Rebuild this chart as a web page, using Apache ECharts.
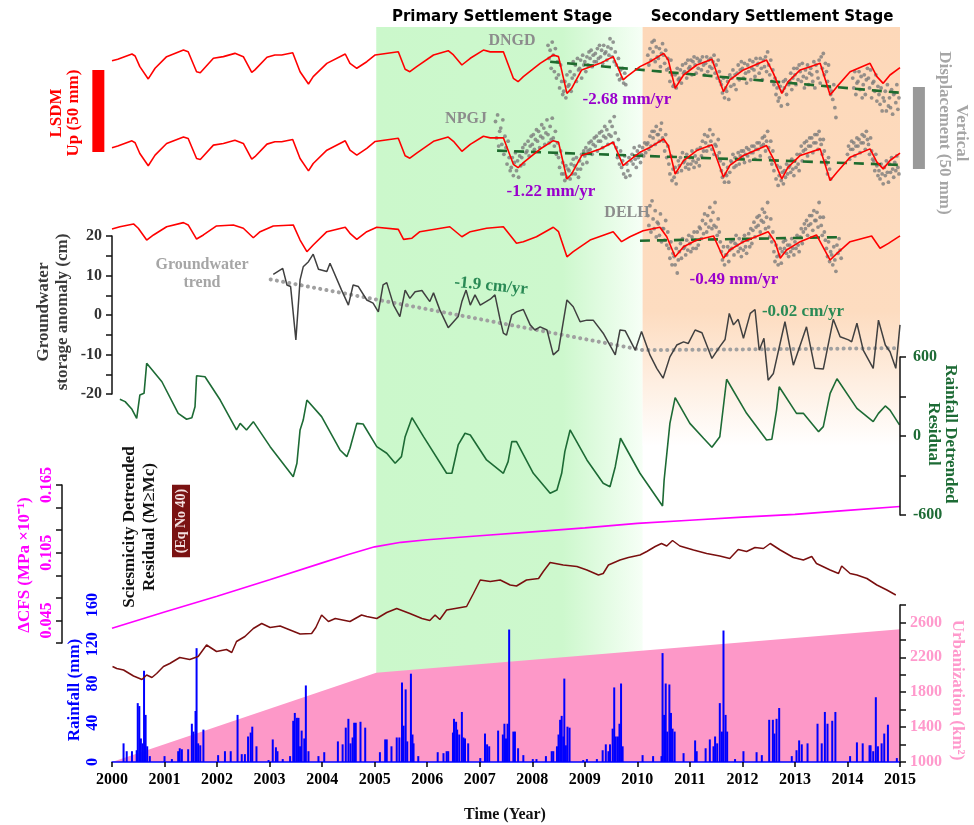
<!DOCTYPE html>
<html>
<head>
<meta charset="utf-8">
<title>Settlement stages</title>
<script src="https://cdn.jsdelivr.net/npm/echarts@6/dist/echarts.min.js"></script>
<style>
html,body{margin:0;padding:0;background:#fff;}
#main{width:974px;height:825px;}
</style>
</head>
<body>
<div id="main"></div>
<script>
// ---- data ----
// LSDM vertical loading (mm), [year, mm]
var lsdmDNGD = [
 [2000.00,2.6],[2000.11,3.5],[2000.38,6.7],[2000.44,5.5],[2000.53,-1.0],[2000.69,-8.5],[2000.82,-2.0],
 [2001.04,5.1],[2001.36,9.1],[2001.45,8.1],[2001.61,-4.1],[2001.68,-4.7],[2001.93,4.1],
 [2002.12,5.1],[2002.34,7.1],[2002.50,5.1],[2002.66,-4.5],[2002.72,-3.0],[2002.95,4.7],
 [2003.10,6.1],[2003.23,6.1],[2003.44,7.5],[2003.58,-4.1],[2003.74,-11.6],[2003.83,-7.1],
 [2004.09,1.0],[2004.44,6.7],[2004.53,1.0],[2004.66,-2.0],[2004.85,2.0],
 [2005.01,6.1],[2005.45,8.1],[2005.58,-2.6],[2005.67,-4.1],[2005.80,-1.0],
 [2006.12,6.1],[2006.40,8.7],[2006.50,6.1],[2006.66,0.0],[2006.82,4.1],
 [2007.07,9.1],[2007.20,8.0],[2007.45,8.1],[2007.64,-8.1],[2007.73,-10.2],[2007.83,-7.1],
 [2008.15,1.0],[2008.40,6.1],[2008.50,5.1],[2008.66,-17.3],[2008.75,-14.2],[2008.94,-3.0],
 [2009.29,1.0],[2009.54,5.1],[2009.61,0.0],[2009.73,-9.1],[2009.80,-7.1],
 [2010.05,-1.0],[2010.24,2.0],[2010.50,7.1],[2010.59,3.0],[2010.72,-14.2],[2010.88,-6.1],
 [2011.13,0.0],[2011.42,3.5],[2011.64,-16.3],[2011.76,-9.1],
 [2012.02,-3.0],[2012.46,3.0],[2012.59,-5.1],[2012.75,-17.3],[2012.87,-10.2],
 [2013.10,-3.0],[2013.29,-1.0],[2013.48,1.0],[2013.67,-18.3],[2013.80,-13.2],
 [2014.05,-4.1],[2014.43,1.0],[2014.56,-7.1],[2014.68,-11.2],[2014.81,-6.1],[2015.00,-1.6]
];
var lsdmNPGJ = [
 [2000.00,2.0],[2000.11,3.0],[2000.38,6.2],[2000.44,5.0],[2000.53,-1.5],[2000.69,-9.0],[2000.82,-2.5],
 [2001.04,4.6],[2001.36,8.6],[2001.45,7.6],[2001.61,-4.6],[2001.68,-5.2],[2001.93,3.6],
 [2002.12,4.6],[2002.34,6.6],[2002.50,4.6],[2002.66,-5.0],[2002.72,-3.5],[2002.95,4.2],
 [2003.10,5.6],[2003.23,5.6],[2003.44,7.0],[2003.58,-4.6],[2003.74,-12.1],[2003.83,-7.6],
 [2004.09,0.5],[2004.44,6.2],[2004.53,0.5],[2004.66,-2.5],[2004.85,1.6],
 [2005.01,5.8],[2005.45,7.8],[2005.58,-2.9],[2005.67,-4.4],[2005.80,-1.3],
 [2006.12,5.9],[2006.40,8.5],[2006.50,5.9],[2006.66,-0.2],[2006.82,4.0],
 [2007.07,9.0],[2007.20,8.0],[2007.45,8.1],[2007.64,-8.1],[2007.73,-10.2],[2007.83,-7.1],
 [2008.15,1.2],[2008.40,6.3],[2008.50,5.3],[2008.66,-17.1],[2008.75,-14.0],[2008.94,-2.8],
 [2009.29,1.2],[2009.54,5.3],[2009.61,0.2],[2009.73,-8.9],[2009.80,-6.9],
 [2010.05,-0.8],[2010.24,2.2],[2010.50,7.3],[2010.59,3.2],[2010.72,-14.0],[2010.88,-5.9],
 [2011.13,0.3],[2011.42,3.8],[2011.64,-16.0],[2011.76,-8.8],
 [2012.02,-2.7],[2012.46,3.3],[2012.59,-4.8],[2012.75,-17.0],[2012.87,-9.9],
 [2013.10,-2.7],[2013.29,-0.7],[2013.48,1.3],[2013.67,-18.0],[2013.80,-12.9],
 [2014.05,-3.8],[2014.43,1.3],[2014.56,-6.8],[2014.68,-10.9],[2014.81,-5.8],[2015.00,-1.3]
];
var lsdmDELH = [
 [2000.00,1.8],[2000.15,3.2],[2000.41,4.9],[2000.50,2.3],[2000.66,-4.9],[2000.79,-1.8],
 [2001.04,3.2],[2001.36,5.7],[2001.45,4.3],[2001.61,-4.3],[2001.74,-1.8],[2001.99,3.7],
 [2002.31,4.3],[2002.50,2.3],[2002.69,-3.5],[2002.82,0.2],[2003.07,3.7],[2003.45,4.3],
 [2003.58,-4.9],[2003.71,-12.0],[2003.83,-7.9],[2004.09,0.2],[2004.44,2.9],[2004.53,-0.8],
 [2004.66,-4.5],[2004.85,0.2],[2005.04,2.9],[2005.45,1.6],[2005.55,-4.5],[2005.71,-3.8],
 [2005.86,0.2],[2006.43,3.2],[2006.66,-2.9],[2006.82,0.2],[2007.13,2.3],[2007.45,3.2],
 [2007.70,-6.9],[2007.83,-5.9],[2008.08,-2.9],[2008.40,2.9],[2008.50,0.2],[2008.66,-15.1],
 [2008.78,-12.0],[2009.10,-4.9],[2009.54,0.2],[2009.70,-5.9],[2009.86,-2.9],[2010.11,0.8],
 [2010.43,2.9],[2010.56,-2.9],[2010.72,-15.1],[2010.88,-9.0],[2011.13,-4.9],[2011.45,-2.4],
 [2011.64,-16.0],[2011.76,-11.0],[2012.02,-5.9],[2012.49,0.2],[2012.62,-5.9],[2012.72,-16.0],
 [2012.84,-11.0],[2013.10,-5.9],[2013.41,-1.8],[2013.67,-17.1],[2013.80,-13.0],[2014.05,-5.9],
 [2014.46,-2.4],[2014.62,-9.9],[2014.78,-6.9],[2015.00,-2.4]
];

// GPS vertical displacement (mm): each row = [bin start year, samples 0.02 yr apart]
var gpsDNGD = [
 [2008.3,[12,4,9,-2,14]],[2008.4,[6,-4,10,-8,2]],[2008.5,[-6,-14,0,-10,-18]],[2008.6,[-16,-10,-20,-6,-13]],
 [2008.7,[-12,-4,-16,-8,2]],[2008.8,[-6,0,-10,4,-3]],[2008.9,[-2,3,-8,6,0]],[2009.0,[2,-4,5,0,8]],
 [2009.1,[4,9,-1,6,2]],[2009.2,[7,2,10,4,12]],[2009.3,[5,9,1,12,7]],[2009.4,[8,3,11,6,16]],
 [2009.5,[10,5,14,2,8]],[2009.6,[0,-6,4,-9,-3]],[2009.7,[-8,-2,-11,-5,-12]],
 [2010.2,[6,0,10,3,14]],[2010.3,[8,15,2,11,5]],[2010.4,[4,10,-1,7,13]],[2010.5,[6,1,9,-3,4]],
 [2010.6,[-2,-10,3,-6,-13]],[2010.7,[-12,-6,-14,-2,-9]],[2010.8,[-8,-3,-11,0,-5]],[2010.9,[-4,1,-8,3,-2]],
 [2011.0,[-1,3,-6,2,5]],[2011.1,[0,-5,4,-2,2]],[2011.2,[3,-3,5,0,-6]],[2011.3,[1,5,-4,3,-1]],
 [2011.4,[4,-2,2,6,-5]],[2011.5,[0,-8,3,-4,-10]],[2011.6,[-12,-17,-8,-20,-14]],[2011.7,[-16,-10,-21,-6,-13]],
 [2011.8,[-8,-3,-12,-6,-15]],[2011.9,[-5,0,-9,-3,2]],[2012.0,[-2,-8,1,-5,-11]],[2012.1,[0,-4,3,-9,-2]],
 [2012.2,[2,-3,-7,4,0]],[2012.3,[1,-5,4,-2,-9]],[2012.4,[3,-1,5,-4,8]],[2012.5,[0,-6,3,-10,-3]],
 [2012.6,[-12,-8,-18,-14,-22]],[2012.7,[-20,-13,-25,-16,-10]],[2012.8,[-14,-9,-18,-24,-12]],[2012.9,[-10,-5,-15,-8,-2]],
 [2013.0,[-6,-12,-2,-9,0]],[2013.1,[-4,-10,1,-7,-14]],[2013.2,[-3,-8,0,-12,-5]],[2013.3,[-2,-6,-10,2,-14]],
 [2013.4,[0,-4,-8,3,-11]],[2013.5,[5,-2,7,-6,1]],[2013.6,[-4,-10,0,-14,-18]],[2013.7,[-16,-21,-12,-26,-32]],
 [2014.1,[-8,-14,-4,-18,-11]],[2014.2,[-10,-4,-15,-7,-20]],[2014.3,[-12,-6,-18,-9,-2]],[2014.4,[-8,-14,-3,-20,-11]],
 [2014.5,[-10,-16,-6,-22,-13]],[2014.6,[-18,-24,-14,-28,-20]],[2014.7,[-22,-16,-28,-12,-25]],[2014.8,[-20,-26,-15,-30,-18]],
 [2014.9,[-17,-23,-12,-27,-20]]
];
var gpsNPGJ = [
 [2007.3,[18,8,22,3,12]],[2007.4,[14,4,19,-2,9]],[2007.5,[2,-8,6,-4,-12]],[2007.6,[-10,-4,-15,-7,-1]],
 [2007.7,[-12,-6,-16,-3,-9]],[2007.8,[-4,2,-8,4,-1]],[2007.9,[0,6,-3,3,9]],[2008.0,[4,10,1,7,13]],
 [2008.1,[6,12,2,9,16]],[2008.2,[8,14,4,11,19]],[2008.3,[10,5,15,7,20]],[2008.4,[8,3,12,-2,5]],
 [2008.5,[-4,-10,0,-14,-7]],[2008.6,[-14,-18,-9,-16,-11]],[2008.7,[-12,-17,-8,-14,-5]],[2008.8,[-9,-14,-4,-11,-16]],
 [2008.9,[-6,-11,-2,-8,0]],[2009.0,[-3,2,-7,0,5]],[2009.1,[1,6,-2,4,8]],[2009.2,[3,9,0,6,11]],
 [2009.3,[6,12,2,9,15]],[2009.4,[8,13,4,10,18]],[2009.5,[9,15,5,21,11]],[2009.6,[2,-4,7,-8,0]],
 [2009.7,[-10,-6,-14,-3,-16]],[2009.8,[-8,-12,-4,-15,-6]],[2009.9,[-2,-8,2,-5,-10]],[2010.0,[0,-4,3,-7,-2]],
 [2010.1,[2,-3,5,-1,4]],[2010.2,[5,1,9,3,12]],[2010.3,[8,12,4,15,10]],[2010.4,[10,6,13,17,8]],
 [2010.5,[6,0,10,-4,3]],[2010.6,[-8,-14,-3,-18,-11]],[2010.7,[-16,-10,-20,-13,-6]],[2010.8,[-9,-4,-12,-1,-7]],
 [2010.9,[-6,-10,-2,-8,-11]],[2011.0,[-4,-8,0,-6,-10]],[2011.1,[-3,-7,1,-5,-9]],[2011.2,[2,-3,6,0,10]],
 [2011.3,[5,0,9,3,13]],[2011.4,[6,1,10,-2,4]],[2011.5,[3,-3,7,-1,-6]],[2011.6,[-12,-16,-8,-19,-14]],
 [2011.7,[-15,-10,-19,-13,-6]],[2011.8,[-7,-2,-10,-4,-9]],[2011.9,[-5,-1,-8,-3,0]],[2012.0,[-4,0,-7,-2,2]],
 [2012.1,[-3,1,-6,-1,3]],[2012.2,[-1,3,-5,1,5]],[2012.3,[1,5,-3,3,8]],[2012.4,[4,9,0,6,12]],
 [2012.5,[2,-4,6,-8,0]],[2012.6,[-12,-6,-17,-9,-21]],[2012.7,[-15,-10,-18,-13,-20]],[2012.8,[-12,-16,-8,-14,-10]],
 [2012.9,[-9,-13,-5,-11,-15]],[2013.0,[-6,-10,-2,-8,-12]],[2013.1,[-2,3,-6,0,5]],[2013.2,[1,6,-3,3,8]],
 [2013.3,[3,8,-1,5,10]],[2013.4,[5,10,1,12,7]],[2013.5,[4,-2,7,0,-6]],[2013.6,[-8,-14,-4,-11,-17]],
 [2014.0,[-2,3,-5,1,6]],[2014.1,[1,5,-3,3,8]],[2014.2,[3,7,-1,5,10]],[2014.3,[5,9,1,12,7]],
 [2014.4,[4,-2,8,0,-5]],[2014.5,[-6,-12,-2,-9,-15]],[2014.6,[-12,-17,-8,-14,-20]],[2014.7,[-10,-15,-6,-13,-19]],
 [2014.8,[-8,-13,-4,-11,-16]],[2014.9,[-7,-12,-3,-10,-14]]
];
var gpsDELH = [
 [2010.2,[10,4,16,0,19]],[2010.3,[8,2,13,-3,6]],[2010.4,[5,-2,11,-6,2]],[2010.5,[2,-5,7,-8,0]],
 [2010.6,[-10,-16,-6,-20,-13]],[2010.7,[-15,-20,-10,-25,-17]],[2010.8,[-12,-7,-16,-4,-10]],[2010.9,[-9,-14,-5,-11,-2]],
 [2011.0,[-7,-12,-3,-10,0]],[2011.1,[-5,-10,0,-8,3]],[2011.2,[2,-4,7,-1,11]],[2011.3,[5,0,10,3,15]],
 [2011.4,[7,2,12,4,18]],[2011.5,[3,-2,8,0,-6]],[2011.6,[-12,-17,-9,-20,-14]],[2011.7,[-14,-9,-18,-11,-6]],
 [2011.8,[-10,-5,-14,-7,-2]],[2011.9,[-8,-12,-4,-10,-15]],[2012.0,[-6,-11,-2,-9,-13]],[2012.1,[-5,-1,-9,2,-7]],
 [2012.2,[1,6,-3,3,9]],[2012.3,[4,10,0,7,14]],[2012.4,[6,12,2,9,18]],[2012.5,[3,-3,8,-6,0]],
 [2012.6,[-12,-18,-8,-15,-20]],[2012.7,[-14,-10,-19,-12,-6]],[2012.8,[-10,-5,-13,-8,-15]],[2012.9,[-8,-12,-4,-10,-14]],
 [2013.0,[-6,-10,-2,-8,-12]],[2013.1,[-3,2,-7,0,5]],[2013.2,[2,7,-2,4,10]],[2013.3,[5,10,1,13,7]],
 [2013.4,[7,12,3,18,9]],[2013.5,[4,-2,9,0,-5]],[2013.6,[-10,-15,-6,-18,-12]],[2013.7,[-14,-20,-9,-17,-24]],
 [2013.8,[-8,-13,-4,-11,-16]]
];
// linear GPS trends (mm)
var trendDNGD = [[2008.34,2.0],[2015.0,-16.9]];
var trendNPGJ = [[2007.33,0.2],[2015.0,-8.5]];
var trendDELH = [[2010.05,-5.3],[2013.8,-3.2]];
// 50 mm scale bars: [year, top mm, bottom mm] on the DNGD scale
var lsdmBar = [1999.74, -3, -53];
var gpsBar = [2015.36, -13.4, -63.4];

// groundwater storage anomaly (cm)
var gwsa = [
 [2003.07,10.3],[2003.25,11.8],[2003.33,7.6],[2003.40,7.2],[2003.50,-6.3],[2003.58,8.9],[2003.64,12.2],
 [2003.74,13.5],[2003.83,15.4],[2003.93,11.6],[2004.09,11.0],[2004.15,13.1],[2004.37,6.3],[2004.50,2.5],
 [2004.59,7.6],[2004.69,7.2],[2004.85,3.8],[2004.97,3.0],[2005.07,0.8],[2005.16,7.6],[2005.23,8.2],
 [2005.36,2.5],[2005.48,-0.4],[2005.58,6.3],[2005.67,4.2],[2005.77,5.9],[2005.90,6.2],[2006.05,3.4],
 [2006.12,5.6],[2006.24,1.3],[2006.40,-3.2],[2006.59,-0.4],[2006.66,3.4],[2006.74,6.3],[2006.82,2.5],
 [2006.91,5.1],[2007.01,2.5],[2007.20,4.0],[2007.29,5.1],[2007.39,-1.3],[2007.45,-4.6],[2007.51,-5.1],
 [2007.61,0.0],[2007.70,0.8],[2007.83,1.4],[2007.96,-2.5],[2008.05,-3.8],[2008.15,-3.0],[2008.28,-3.8],
 [2008.40,-10.1],[2008.50,-8.9],[2008.66,3.8],[2008.78,2.1],[2008.91,-1.7],[2009.04,-1.3],[2009.16,-1.3],
 [2009.35,-4.6],[2009.58,-10.1],[2009.67,-3.8],[2009.77,-4.0],[2009.96,-8.9],[2010.08,-4.2],[2010.24,-10.1],
 [2010.37,-13.5],[2010.49,-16.0],[2010.62,-10.6],[2010.75,-7.6],[2010.88,-6.8],[2010.97,-7.2],[2011.10,-3.8],
 [2011.23,-4.5],[2011.42,-11.0],[2011.57,-8.0],[2011.67,-6.2],[2011.75,0.4],[2011.83,-2.5],[2011.92,-1.1],
 [2012.02,-5.9],[2012.15,0.4],[2012.24,1.4],[2012.32,-8.9],[2012.41,-5.9],[2012.49,-16.5],[2012.59,-14.8],
 [2012.81,-1.7],[2012.97,-12.7],[2013.22,-3.0],[2013.38,-13.5],[2013.54,-13.7],[2013.73,-1.1],[2013.86,-5.5],
 [2014.02,-6.3],[2014.08,-6.8],[2014.18,-2.1],[2014.30,-8.9],[2014.49,-13.5],[2014.59,-1.3],[2014.72,-7.6],
 [2014.81,-9.3],[2014.92,-13.5],[2015.00,-2.5]
];
var gwTrend = [[2003.02,9.0],[2010.11,-8.9],[2015.0,-8.4]];

// rainfall detrended residual
var rainResidual = [
 [2000.15,279],[2000.25,261],[2000.38,203],[2000.47,134],[2000.53,311],[2000.61,324],[2000.66,552],
 [2000.95,412],[2001.26,172],[2001.42,127],[2001.52,139],[2001.58,222],[2001.61,458],[2001.77,450],
 [2002.06,273],[2002.37,46],[2002.44,96],[2002.56,46],[2002.69,109],[2003.01,-81],[2003.45,-309],
 [2003.52,-207],[2003.58,46],[2003.64,121],[2003.71,273],[2003.99,147],[2004.34,-106],[2004.47,-157],
 [2004.53,-93],[2004.66,96],[2004.78,91],[2005.04,-81],[2005.23,-131],[2005.39,-207],[2005.51,-157],
 [2005.58,-5],[2005.71,139],[2005.93,-5],[2006.37,-283],[2006.47,-283],[2006.59,-68],[2006.72,21],
 [2006.82,8],[2007.13,-182],[2007.45,-283],[2007.54,-195],[2007.61,-43],[2007.70,-43],[2008.02,-283],
 [2008.34,-435],[2008.47,-410],[2008.56,-283],[2008.62,-119],[2008.72,46],[2009.04,-182],[2009.35,-359],
 [2009.48,-385],[2009.58,-233],[2009.68,-17],[2010.05,-283],[2010.48,-532],[2010.51,-334],[2010.62,96],
 [2010.72,291],[2011.00,96],[2011.26,-17],[2011.42,-86],[2011.57,-5],[2011.70,431],[2012.08,172],
 [2012.46,-30],[2012.56,-25],[2012.65,197],[2012.70,374],[2013.03,172],[2013.16,172],[2013.45,33],
 [2013.54,71],[2013.67,324],[2013.80,435],[2014.18,210],[2014.49,109],[2014.59,172],[2014.72,228],
 [2014.81,197],[2014.99,84]
];

// Coulomb stress change (MPa x 10^-1)
var cfs = [
 [2000.0,0.038],[2001.0,0.0525],[2002.0,0.0665],[2003.0,0.081],[2004.0,0.096],[2004.5,0.1035],
 [2005.0,0.1102],[2005.5,0.1142],[2006.0,0.1165],[2007.0,0.120],[2008.0,0.1235],[2009.0,0.127],
 [2010.0,0.131],[2011.0,0.1338],[2012.0,0.1365],[2013.0,0.139],[2014.0,0.1425],[2015.0,0.146]
];

// seismicity detrended residual (M>=Mc)
var seismic = [
 [2000.01,-3.3],[2000.09,-3.7],[2000.22,-4.0],[2000.41,-5.2],[2000.57,-5.9],[2000.66,-5.0],[2000.76,-5.5],
 [2000.85,-4.7],[2000.98,-3.3],[2001.10,-2.7],[2001.29,-1.5],[2001.48,-1.9],[2001.64,-1.3],[2001.80,1.0],
 [2001.99,-0.3],[2002.18,0.1],[2002.28,-0.5],[2002.37,1.7],[2002.53,2.7],[2002.69,4.3],[2002.85,5.3],
 [2003.01,4.5],[2003.20,4.8],[2003.39,4.0],[2003.58,3.2],[2003.80,3.3],[2003.88,4.5],[2003.99,7.0],
 [2004.12,5.7],[2004.25,6.3],[2004.53,5.7],[2004.75,7.0],[2004.85,6.7],[2005.04,6.3],[2005.23,7.5],
 [2005.42,8.3],[2005.67,7.3],[2005.90,6.3],[2006.05,5.9],[2006.15,7.0],[2006.24,6.1],[2006.37,8.0],
 [2006.75,8.7],[2006.88,11.3],[2007.01,14.0],[2007.20,13.7],[2007.39,14.0],[2007.58,13.0],[2007.70,12.8],
 [2007.89,14.0],[2008.12,14.3],[2008.21,15.7],[2008.34,17.5],[2008.59,17.0],[2008.85,16.7],[2009.04,16.0],
 [2009.26,15.0],[2009.35,15.3],[2009.45,17.0],[2009.67,18.0],[2009.83,18.5],[2010.05,19.0],[2010.18,19.7],
 [2010.34,20.7],[2010.46,21.3],[2010.56,20.8],[2010.67,21.9],[2010.81,20.8],[2011.07,20.0],[2011.32,19.3],
 [2011.57,18.8],[2011.76,18.3],[2011.92,20.1],[2012.08,19.7],[2012.24,20.5],[2012.40,20.3],[2012.53,21.3],
 [2012.72,20.0],[2012.97,18.5],[2013.16,18.0],[2013.32,18.7],[2013.41,17.3],[2013.67,16.0],[2013.83,15.3],
 [2013.89,16.8],[2014.05,15.3],[2014.18,15.0],[2014.37,14.3],[2014.56,13.0],[2014.75,12.0],[2014.92,11.0]
];

// daily rainfall spikes (mm)
var rainfall = [
 [2000.22,19],[2000.28,11],[2000.38,11],[2000.47,12],[2000.49,60],[2000.52,57],[2000.55,24],[2000.58,19],
 [2000.61,93],[2000.64,48],[2000.67,16],[2000.72,6],[2001.00,6],[2001.14,3],[2001.26,11],[2001.29,14],
 [2001.33,13],[2001.45,13],[2001.52,39],[2001.55,31],[2001.59,52],[2001.61,116],[2001.64,19],[2001.68,17],
 [2001.74,33],[2002.02,7],[2002.15,11],[2002.26,11],[2002.39,48],[2002.47,8],[2002.53,8],[2002.59,26],
 [2002.64,30],[2002.67,36],[2002.75,16],[2002.98,2],[2003.06,23],[2003.12,15],[2003.15,11],[2003.25,3],
 [2003.39,6],[2003.45,42],[2003.48,50],[2003.52,45],[2003.55,45],[2003.58,16],[2003.61,32],[2003.66,24],
 [2003.69,78],[2003.74,11],[2003.93,6],[2004.04,10],[2004.30,21],[2004.39,18],[2004.45,35],[2004.50,44],
 [2004.54,19],[2004.58,25],[2004.61,40],[2004.64,40],[2004.73,41],[2004.82,35],[2005.10,10],[2005.20,23],
 [2005.23,23],[2005.32,16],[2005.42,25],[2005.47,25],[2005.52,81],[2005.55,37],[2005.59,74],[2005.62,21],
 [2005.69,90],[2005.72,28],[2005.74,19],[2005.83,6],[2006.20,10],[2006.31,9],[2006.37,11],[2006.40,11],
 [2006.49,30],[2006.51,44],[2006.55,41],[2006.57,33],[2006.61,28],[2006.66,51],[2006.69,25],[2006.72,24],
 [2006.78,19],[2007.01,4],[2007.10,29],[2007.14,18],[2007.18,16],[2007.35,32],[2007.44,28],[2007.47,39],
 [2007.50,24],[2007.53,39],[2007.56,135],[2007.64,31],[2007.67,31],[2007.73,14],[2007.83,7],[2008.01,3],
 [2008.08,3],[2008.26,6],[2008.37,11],[2008.40,11],[2008.47,16],[2008.50,28],[2008.53,43],[2008.56,47],
 [2008.59,26],[2008.61,85],[2008.64,17],[2008.67,36],[2008.71,35],[2008.97,2],[2009.04,3],[2009.23,3],
 [2009.34,12],[2009.40,18],[2009.45,11],[2009.48,18],[2009.53,34],[2009.56,76],[2009.59,26],[2009.63,26],
 [2009.66,39],[2009.69,80],[2009.72,16],[2010.10,7],[2010.30,6],[2010.46,6],[2010.48,111],[2010.51,48],
 [2010.54,80],[2010.57,31],[2010.61,79],[2010.64,50],[2010.67,34],[2010.71,31],[2010.88,9],[2011.10,22],
 [2011.13,11],[2011.30,14],[2011.38,23],[2011.45,16],[2011.48,26],[2011.52,19],[2011.57,60],[2011.61,31],
 [2011.64,134],[2011.68,48],[2011.71,31],[2011.86,3],[2012.02,11],[2012.27,10],[2012.37,7],[2012.51,43],
 [2012.58,43],[2012.61,29],[2012.65,44],[2012.70,55],[2012.94,6],[2013.03,12],[2013.08,22],[2013.13,18],
 [2013.24,19],[2013.43,39],[2013.51,19],[2013.57,51],[2013.62,39],[2013.71,42],[2013.77,51],[2014.05,6],
 [2014.18,20],[2014.29,19],[2014.42,17],[2014.44,17],[2014.49,11],[2014.54,66],[2014.58,16],[2014.65,19],
 [2014.70,29],[2014.77,38],[2014.94,4]
];

// urbanized area (km^2)
var urban = [[2000,1000],[2005.03,2024],[2015,2522]];

// stage limits (year)
var primaryStage = [2005.03, 2010.1];
var secondaryStage = [2010.1, 2015.03];

// ---- layout ----
var FONT = '"Liberation Serif", "Times New Roman", serif';
var PX_MM = 1.64;   // pixels per mm in the displacement panel
var L = 112, R = 74;
var PX_YEAR = (974 - L - R) / 15;

function stationGrid(y0, min, max) {
    return { left: L, right: R, top: y0 - max * PX_MM, height: (max - min) * PX_MM };
}
function expandBins(bins) {
    var out = [];
    bins.forEach(function (b) {
        b[1].forEach(function (v, i) { out.push([+(b[0] + i * 0.02).toFixed(2), v]); });
    });
    return out;
}
function hiddenY(grid, min, max) {
    return { type: 'value', gridIndex: grid, min: min, max: max, show: false, splitLine: { show: false } };
}
function every(step, base) {
    return function (v) {
        var k = (v - base) / step;
        return Math.abs(k - Math.round(k)) < 1e-6 ? String(+v.toFixed(3)) : '';
    };
}

// scale-bar grid: same year/mm mapping as DNGD, widened by half a year each side
var barGrid = stationGrid(65, -70, 25);
barGrid.left = L - PX_YEAR / 2;
barGrid.right = R - PX_YEAR / 2;

var grids = [
    { left: L, right: R, top: 27, bottom: 63 },   // 0 background bands
    stationGrid(65, -40, 25),                      // 1 DNGD
    stationGrid(151, -30, 25),                     // 2 NPGJ
    stationGrid(232, -30, 25),                     // 3 DELH
    { left: L, right: R, top: 236, height: 158 },  // 4 groundwater
    { left: L, right: R, top: 357, height: 158 },  // 5 rainfall residual
    { left: L, right: R, top: 485, height: 158 },  // 6 CFS
    { left: L, right: R, top: 530, height: 170 },  // 7 seismicity
    { left: L, right: R, top: 605, height: 157 },  // 8 rainfall / urbanization
    barGrid                                        // 9 scale bars
];

var xAxes = grids.map(function (g, i) {
    return { type: 'value', gridIndex: i, min: 2000, max: 2015, interval: 1, show: false, splitLine: { show: false } };
});
xAxes[9].min = 1999.5;
xAxes[9].max = 2015.5;
xAxes[9].interval = 0.5;
xAxes[8] = {
    type: 'value', gridIndex: 8, min: 2000, max: 2015, interval: 1, z: 5,
    axisLine: { lineStyle: { color: '#0000ff', width: 1.5 } },
    axisTick: { length: 5, lineStyle: { color: '#000', width: 1.5 } },
    axisLabel: { color: '#000', fontSize: 16, fontWeight: 'bold', fontFamily: FONT, margin: 10,
        formatter: function (v) { return String(v); } },
    splitLine: { show: false }
};

var labelBase = { fontSize: 16, fontWeight: 'bold', fontFamily: FONT };
var yAxes = [
    hiddenY(0, 0, 100),
    hiddenY(1, -40, 25),
    hiddenY(2, -30, 25),
    hiddenY(3, -30, 25),
    { type: 'value', gridIndex: 4, min: -20, max: 20, interval: 5, z: 5,
      axisLine: { show: true, lineStyle: { color: '#111', width: 1.5 } },
      axisTick: { length: 6, lineStyle: { color: '#111', width: 1.5 } },
      axisLabel: Object.assign({ color: '#333', margin: 10, formatter: every(10, 0) }, labelBase),
      splitLine: { show: false } },
    { type: 'value', gridIndex: 5, position: 'right', min: -600, max: 600, interval: 300, z: 5,
      axisLine: { show: true, lineStyle: { color: '#111', width: 1.5 } },
      axisTick: { length: 6, lineStyle: { color: '#111', width: 1.5 } },
      axisLabel: Object.assign({ color: '#1d6b35', margin: 13, formatter: every(600, 0) }, labelBase),
      splitLine: { show: false } },
    { type: 'value', gridIndex: 6, min: 0.025, max: 0.165, interval: 0.02, offset: 50, z: 5,
      axisLine: { show: true, lineStyle: { color: '#111', width: 1.5 } },
      axisTick: { length: 6, lineStyle: { color: '#111', width: 1.5 } },
      axisLabel: Object.assign({ color: '#ff00ff', margin: 7, rotate: 90, formatter: every(0.06, 0.045) }, labelBase),
      splitLine: { show: false } },
    hiddenY(7, -10, 24),
    { type: 'value', gridIndex: 8, min: 0, max: 160, interval: 40, z: 5,
      axisLine: { show: false }, axisTick: { show: false },
      axisLabel: Object.assign({ color: '#0000ff', margin: 11, rotate: 90 }, labelBase),
      splitLine: { show: false } },
    { type: 'value', gridIndex: 8, position: 'right', min: 1000, max: 2800, interval: 200, z: 5,
      axisLine: { show: true, lineStyle: { color: '#111', width: 1.5 } },
      axisTick: { length: 6, lineStyle: { color: '#111', width: 1.5 } },
      axisLabel: Object.assign({ color: '#ff99cc', margin: 10,
          formatter: function (v) { return (v - 1000) % 400 === 0 && v < 2800 ? String(v) : ''; } }, labelBase),
      splitLine: { show: false } },
    hiddenY(9, -70, 25)
];

function line(name, xi, yi, data, color, width, z, extra) {
    return Object.assign({ name: name, type: 'line', xAxisIndex: xi, yAxisIndex: yi, data: data,
        symbol: 'none', smooth: false, z: z, lineStyle: { color: color, width: width } }, extra || {});
}
function gps(xi, yi, bins) {
    return { type: 'scatter', xAxisIndex: xi, yAxisIndex: yi, data: expandBins(bins),
        symbol: 'circle', symbolSize: 3.8, itemStyle: { color: '#7c7c7c' }, z: 2 };
}
function trend(xi, yi, data) {
    return line('trend', xi, yi, data, '#1e6b2e', 2.6, 3, { lineStyle: { color: '#1e6b2e', width: 2.6, type: [10, 7] } });
}
function scaleBar(bar, color) {
    return line('bar', 9, 10, [[bar[0], bar[1]], [bar[0], bar[2]]], color, 12, 4);
}

var greenFill = new echarts.graphic.LinearGradient(0, 0, 1, 0, [
    { offset: 0, color: '#cbf8cb' }, { offset: 0.7, color: '#cdf8cd' }, { offset: 1, color: '#f6fff6' }
]);
var peachFill = new echarts.graphic.LinearGradient(0, 0, 0, 1, [
    { offset: 0, color: '#fdd8b9' }, { offset: 0.68, color: '#fddcc0' }, { offset: 1, color: '#ffffff' }
]);

var series = [
    { type: 'line', xAxisIndex: 0, yAxisIndex: 0, data: [], z: 0, silent: true,
      markArea: { silent: true, data: [
        [{ coord: [primaryStage[0], 0], itemStyle: { color: greenFill } }, { coord: [primaryStage[1], 100] }],
        [{ coord: [secondaryStage[0], 43], itemStyle: { color: peachFill } }, { coord: [secondaryStage[1], 100] }]
      ] } },
    // urbanization area and rainfall bars
    line('Urbanization', 8, 9, urban, '#fd98c8', 0, 1, { areaStyle: { color: '#fd98c8', opacity: 1, origin: 'start' } }),
    { name: 'Rainfall', type: 'bar', xAxisIndex: 8, yAxisIndex: 8, data: rainfall, barWidth: 2,
      itemStyle: { color: '#0000ff' }, z: 2 },
    line('Seismicity', 7, 7, seismic, '#7a0f0f', 1.5, 3),
    line('CFS', 6, 6, cfs, '#ff00ff', 1.6, 3),
    line('Rainfall residual', 5, 5, rainResidual, '#1d6b35', 1.6, 3),
    line('GWSA trend', 4, 4, gwTrend, '#a0a0a0', 4, 3, { lineStyle: { color: '#a0a0a0', width: 4, type: [0.1, 6.2], cap: 'round' } }),
    line('GWSA', 4, 4, gwsa, '#404040', 1.5, 4),
    gps(1, 1, gpsDNGD), gps(2, 2, gpsNPGJ), gps(3, 3, gpsDELH),
    trend(1, 1, trendDNGD), trend(2, 2, trendNPGJ), trend(3, 3, trendDELH),
    line('LSDM DNGD', 1, 1, lsdmDNGD, '#ff0000', 1.6, 4),
    line('LSDM NPGJ', 2, 2, lsdmNPGJ, '#ff0000', 1.6, 4),
    line('LSDM DELH', 3, 3, lsdmDELH, '#ff0000', 1.6, 4),
    scaleBar(lsdmBar, '#ff0000'),
    scaleBar(gpsBar, '#999999')
];

function txt(x, y, text, color, size, rot, extra) {
    return { type: 'text', x: x, y: y, rotation: rot || 0, z: 10,
        style: Object.assign({ text: text, fill: color, font: 'bold ' + size + 'px ' + FONT,
            textAlign: 'center', textVerticalAlign: 'middle' }, extra || {}) };
}
var HALF = Math.PI / 2;
var SANS = '"DejaVu Sans", sans-serif';
var graphics = [
    txt(502, 17, 'Primary Settlement Stage', '#000', 15, 0, { font: 'bold 15px ' + SANS }),
    txt(772, 17, 'Secondary Settlement Stage', '#000', 15, 0, { font: 'bold 15px ' + SANS }),
    txt(512, 41, 'DNGD', '#8c8c8c', 16),
    txt(466, 119, 'NPGJ', '#8c8c8c', 16),
    txt(627, 213, 'DELH', '#8c8c8c', 16),
    txt(627, 100, '-2.68 mm/yr', '#9900cc', 17),
    txt(551, 192, '-1.22 mm/yr', '#9900cc', 17),
    txt(734, 280, '-0.49 mm/yr', '#9900cc', 17),
    txt(491, 286, '-1.9 cm/yr', '#2a8a55', 17, -0.1),
    txt(803, 312, '-0.02 cm/yr', '#2a8a55', 17),
    txt(202, 274, 'Groundwater\ntrend', '#a6a6a6', 16, 0, { lineHeight: 18 }),
    txt(65, 113, 'LSDM\nUp (50 mm)', '#ff0000', 17, HALF, { lineHeight: 17 }),
    txt(953, 133, 'Vertical\nDisplacement (50 mm)', '#a6a6a6', 17, -HALF, { lineHeight: 17 }),
    txt(53, 312, 'Groundwater\nstorage anomaly (cm)', '#3a3a3a', 17, HALF, { lineHeight: 19 }),
    txt(942, 434, 'Rainfall Detrended\nResidual', '#1d6b35', 17, -HALF, { lineHeight: 17 }),
    txt(140, 527, 'Sciesmicity Detrended\nResidual (M\u2265Mc)', '#111', 17, HALF, { lineHeight: 20 }),
    txt(181, 521, '(Eq No 40)', '#f3e0e0', 14, HALF, { backgroundColor: '#7a1212', padding: [2, 4] }),
    txt(25, 565, '\u0394CFS (MPa \u00d710\u207b\u00b9)', '#ff00ff', 17, HALF),
    txt(75, 690, 'Rainfall (mm)', '#0000ff', 17, HALF),
    txt(957, 690, 'Urbanization (km\u00b2)', '#ff99cc', 17, -HALF),
    txt(505, 815, 'Time (Year)', '#111', 16)
];

var chart = echarts.init(document.getElementById('main'), null, { renderer: 'canvas' });
chart.setOption({
    animation: false,
    backgroundColor: '#ffffff',
    textStyle: { fontFamily: FONT },
    grid: grids,
    xAxis: xAxes,
    yAxis: yAxes,
    series: series,
    graphic: graphics
});
</script>
</body>
</html>
